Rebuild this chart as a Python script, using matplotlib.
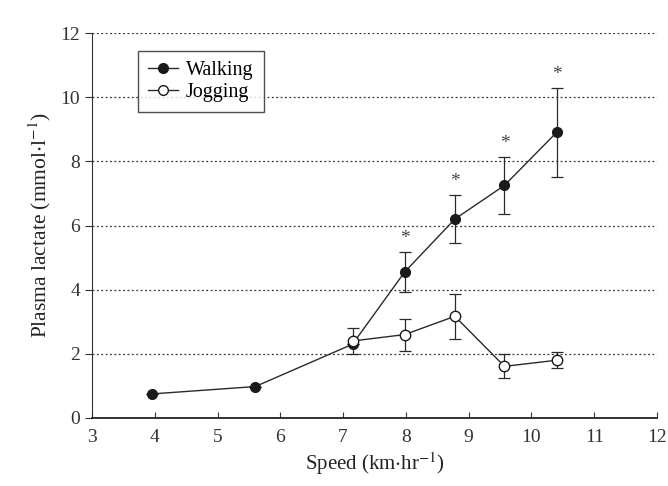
import matplotlib
matplotlib.use("Agg")
import matplotlib.pyplot as plt
from matplotlib.lines import Line2D

plt.rcParams['font.family'] = ['Liberation Serif', 'DejaVu Serif']
plt.rcParams['mathtext.fontset'] = 'stix'

walk_speed = [3.95, 5.6, 7.15, 7.98, 8.78, 9.57, 10.4]
walk_lactate = [0.75, 0.98, 2.3, 4.55, 6.2, 7.25, 8.9]
walk_err = [0.0, 0.0, 0.0, 0.62, 0.75, 0.9, 1.4]

jog_speed = [7.15, 7.98, 8.78, 9.57, 10.4]
jog_lactate = [2.4, 2.6, 3.17, 1.61, 1.8]
jog_err = [0.4, 0.5, 0.7, 0.37, 0.25]

sig_speed = [7.98, 8.78, 9.57, 10.4]
sig_top = [5.17, 6.95, 8.15, 10.3]

fig = plt.figure(figsize=(6.68, 4.86), dpi=100)
ax = fig.add_axes([92/668, 1-418/486, 565/668, 385/486])

ax.errorbar(walk_speed, walk_lactate, yerr=walk_err, fmt='-o', color='#2a2a2a',
            mfc='#1a1a1a', mec='#1a1a1a', ms=7, lw=1.0, elinewidth=0.9,
            capsize=4, capthick=0.9, zorder=3)
ax.errorbar(jog_speed, jog_lactate, yerr=jog_err, fmt='-o', color='#2a2a2a',
            mfc='white', mec='#1a1a1a', ms=7.5, lw=1.0, elinewidth=0.9,
            capsize=4, capthick=0.9, zorder=4)

for x, y in zip(sig_speed, sig_top):
    ax.text(x, y + 0.15, '*', ha='center', va='bottom', fontsize=14, color='#444444')

ax.set_xlim(3, 12)
ax.set_ylim(0, 12)
ax.set_xticks(range(3, 13))
ax.set_yticks(range(0, 13, 2))
for yv in range(2, 13, 2):
    ax.axhline(yv, color='#333333', lw=0.9, ls=(0, (1.5, 2)), zorder=1)

for s in ['top', 'right']:
    ax.spines[s].set_visible(False)
ax.spines['left'].set_color('#333333')
ax.spines['bottom'].set_color('#222222')
ax.spines['bottom'].set_linewidth(1.3)
ax.tick_params(axis='x', direction='in', length=4, labelsize=14, pad=8, colors='#333333')
ax.tick_params(axis='y', direction='out', length=5, labelsize=14, colors='#333333')

ax.set_xlabel(r'Speed (km$\cdot$hr$^{-1}$)', fontsize=15, color='#222222', labelpad=3)
ax.set_ylabel(r'Plasma lactate (mmol$\cdot$l$^{-1}$)', fontsize=15.5, color='#222222', labelpad=5)

handles = [
    Line2D([], [], color='#2a2a2a', lw=1.0, marker='o', ms=7, mfc='#1a1a1a', mec='#1a1a1a'),
    Line2D([], [], color='#2a2a2a', lw=1.0, marker='o', ms=7, mfc='white', mec='#1a1a1a'),
]
leg = ax.legend(handles, ['Walking', 'Jogging'], loc='upper left', bbox_to_anchor=(0.081, 0.953),
                borderaxespad=0, fontsize=14.5, frameon=True, fancybox=False, edgecolor='#222222',
                handlelength=1.5, handletextpad=0.4, borderpad=0.5, labelspacing=0.15)
leg.get_frame().set_linewidth(1.0)

fig.savefig('out.png', dpi=100)
